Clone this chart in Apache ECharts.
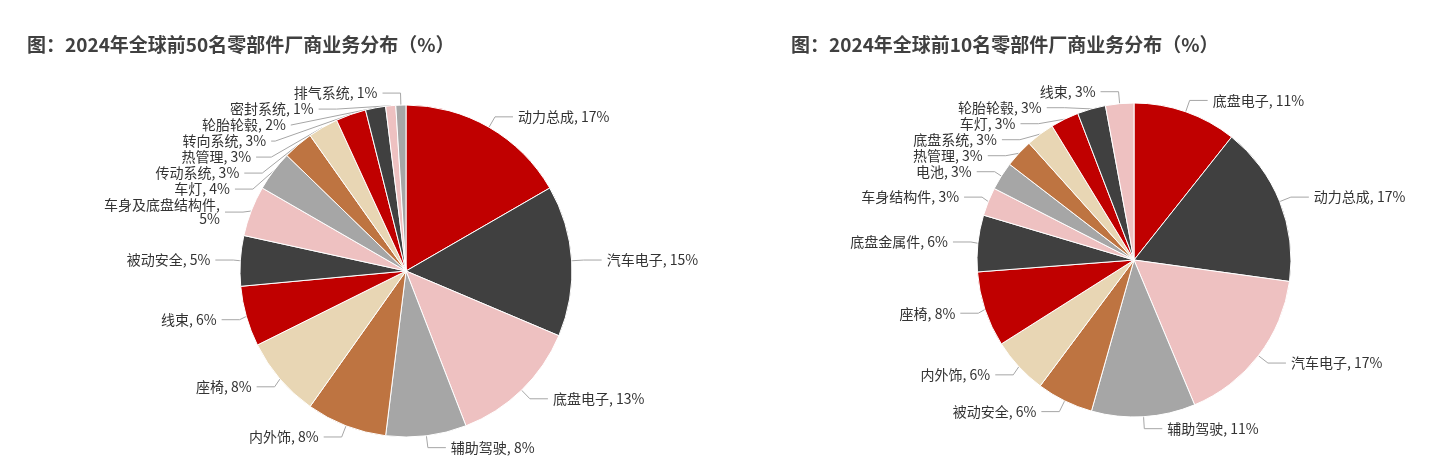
<!DOCTYPE html>
<html>
<head>
<meta charset="utf-8">
<script src="https://cdn.jsdelivr.net/npm/echarts@6/dist/echarts.min.js"></script>
<style>html,body{margin:0;padding:0;background:#fff}#c{width:1436px;height:468px}</style>
</head>
<body>
<div id="c"></div>
<script>
// 前50名
var top50Names = ['动力总成','汽车电子','底盘电子','辅助驾驶','内外饰','座椅','线束','被动安全','车身及底盘结构件','车灯','传动系统','热管理','转向系统','轮胎轮毂','密封系统','排气系统'];
var top50Values = [17,15,13,8,8,8,6,5,5,4,3,3,3,2,1,1];
// 前10名
var top10Names = ['底盘电子','动力总成','汽车电子','辅助驾驶','被动安全','内外饰','座椅','底盘金属件','车身结构件','电池','热管理','底盘系统','车灯','轮胎轮毂','线束'];
var top10Values = [11,17,17,11,6,6,8,6,3,3,3,3,3,3,3];

var palette50 = ['#C00000','#404040','#EEC1C1','#A6A6A6','#BE7441','#E8D6B4'];
var palette10 = ['#C00000','#404040','#EEC1C1','#A6A6A6','#BE7441','#E8D6B4'];

function build(names, values, pal) {
  return names.map(function (n, i) {
    return { name: n, value: values[i], itemStyle: { color: pal[i % pal.length] } };
  });
}

var labelCfg = {
  color: '#333',
  fontSize: 14,
  fontFamily: 'Noto Sans CJK SC',
  formatter: function (p) {
    if (p.name === '车身及底盘结构件') return p.name + ',\n' + p.value + '%';
    return p.name + ', ' + p.value + '%';
  }
};

var chart = echarts.init(document.getElementById('c'));
chart.setOption({
  animation: false,
  title: [
    { text: '图：2024年全球前50名零部件厂商业务分布（%）', left: 22, top: 30,
      textStyle: { fontSize: 19, fontWeight: 'bold', color: '#404040', fontFamily: 'Noto Sans CJK SC' } },
    { text: '图：2024年全球前10名零部件厂商业务分布（%）', left: 786, top: 30,
      textStyle: { fontSize: 19, fontWeight: 'bold', color: '#404040', fontFamily: 'Noto Sans CJK SC' } }
  ],
  series: [
    {
      type: 'pie', center: [406, 271], radius: 166, startAngle: 90, clockwise: true,
      data: build(top50Names, top50Values, palette50),
      label: labelCfg,
      labelLine: { length: 12, length2: 18, lineStyle: { color: '#A6A6A6' } },
      itemStyle: { borderColor: '#fff', borderWidth: 1 }
    },
    {
      type: 'pie', center: [1134, 260], radius: 157, startAngle: 90, clockwise: true,
      data: build(top10Names, top10Values, palette10),
      label: labelCfg,
      labelLine: { length: 12, length2: 18, lineStyle: { color: '#A6A6A6' } },
      itemStyle: { borderColor: '#fff', borderWidth: 1 }
    }
  ]
});
</script>
</body>
</html>
